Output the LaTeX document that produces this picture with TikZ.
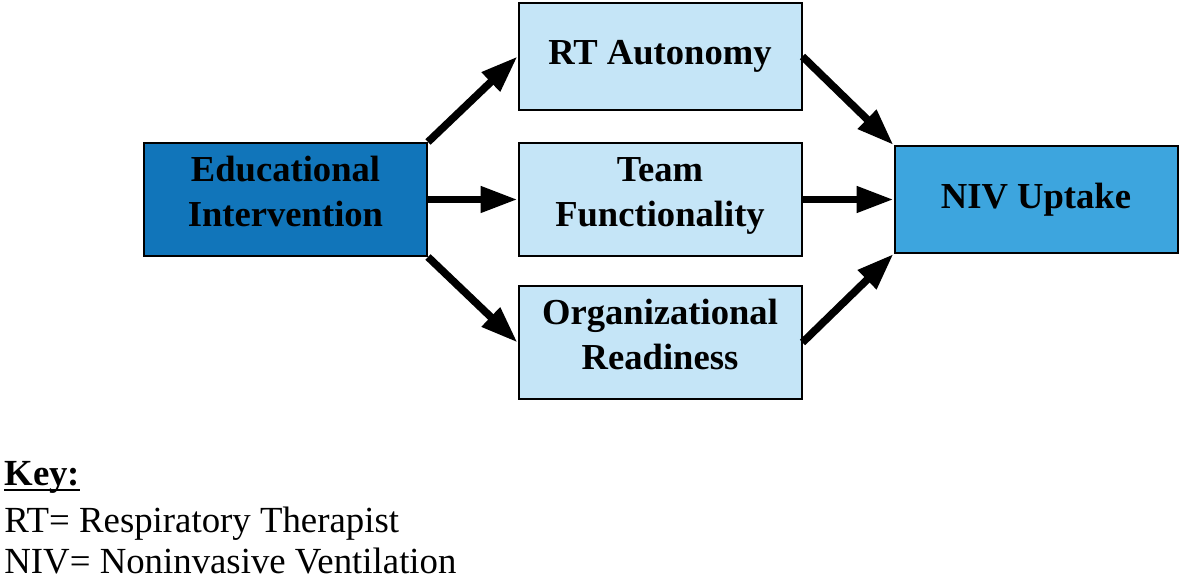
\documentclass[tikz,border=0pt]{standalone}
\usepackage{fontspec}
\setmainfont{Liberation Serif}
\usetikzlibrary{arrows.meta}
\definecolor{edublue}{HTML}{1175BA}
\definecolor{nivblue}{HTML}{3DA5DE}
\definecolor{lightblue}{HTML}{C5E5F7}
\newcommand{\twolines}[2]{\raisebox{2pt}[\height][\depth]{\begin{tabular}{@{}c@{}}#1\\#2\end{tabular}}}
\begin{document}
\begin{tikzpicture}[x=0.5pt,y=-0.5pt,
  box/.style={draw=black,line width=1pt,inner sep=0pt,align=center,
    minimum width=141.5pt,font=\fontsize{18.3pt}{22.5pt}\selectfont\bfseries},
  conn/.style={line width=3.8pt,-{Triangle[length=18.5pt,width=12.5pt]}},
  keytext/.style={anchor=base west,inner sep=0pt,font=\fontsize{18.4pt}{22pt}\selectfont}]
\useasboundingbox (0,0) rectangle (1181,581);
\node[box,fill=edublue,minimum height=56.5pt] (edu) at (285.5,199.5) {\twolines{Educational}{Intervention}};
\node[box,fill=lightblue,minimum height=53.5pt] (rt) at (660,56.5) {RT Autonomy};
\node[box,fill=lightblue,minimum height=56.5pt] (team) at (660,199.5) {\twolines{Team}{Functionality}};
\node[box,fill=lightblue,minimum height=56.5pt] (org) at (660,342.5) {\twolines{Organizational}{Readiness}};
\node[box,fill=nivblue,minimum height=53.5pt] (niv) at (1036,199.5) {NIV Uptake};
\draw[conn] (edu.north east) -- (rt.west);
\draw[conn] (edu.east) -- (team.west);
\draw[conn] (edu.south east) -- (org.west);
\draw[conn] (rt.east) -- (niv.north west);
\draw[conn] (team.east) -- (niv.west);
\draw[conn] (org.east) -- (niv.south west);
\node[keytext] (key) at (4,486) {\bfseries Key:};
\draw[line width=1pt] ([yshift=-2pt]key.base west) -- ([yshift=-2pt]key.base east);
\node[keytext] (k1) at (4,532) {RT= Respiratory Therapist};
\node[keytext] (k2) at (4,573) {NIV= Noninvasive Ventilation};
\end{tikzpicture}
\end{document}
